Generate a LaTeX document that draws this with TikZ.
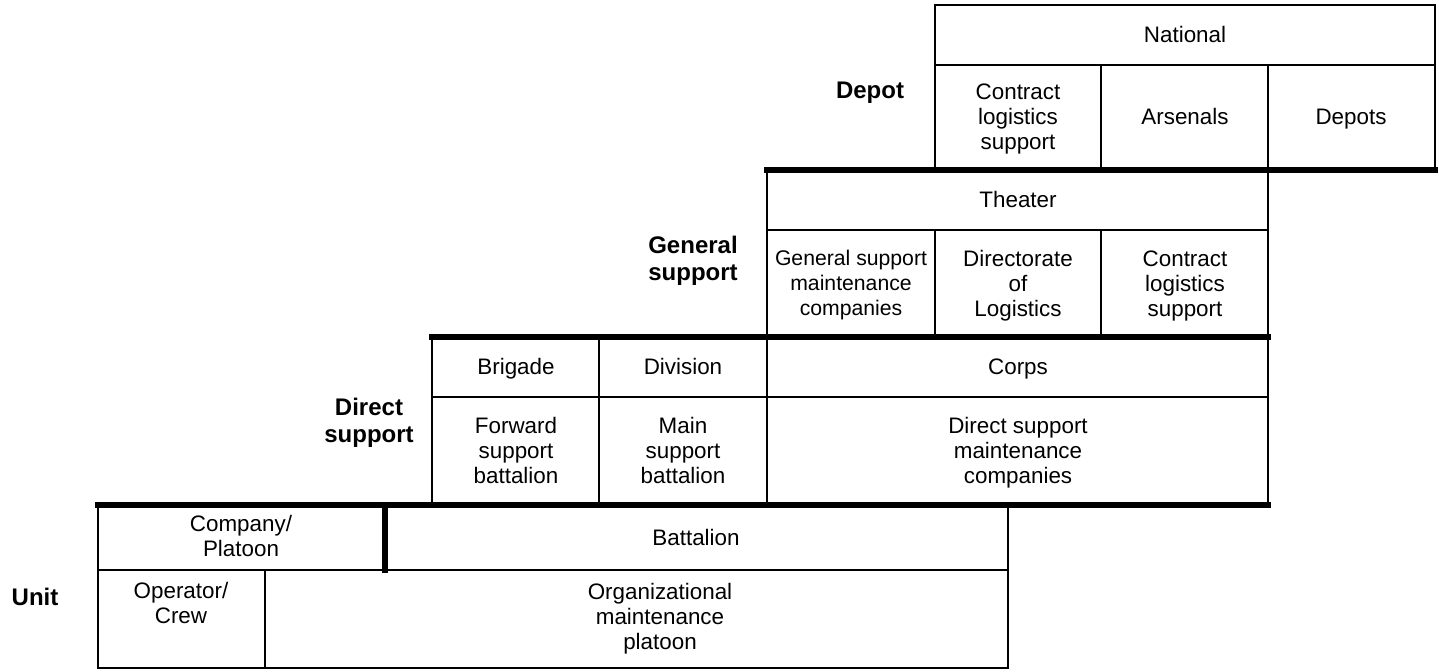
\documentclass[tikz,border=0pt]{standalone}
\usepackage{fontspec}
\setmainfont{Liberation Sans}
\begin{document}
\begin{tikzpicture}[x=0.5pt,y=-0.5pt,
    cell/.style={align=center, inner sep=0pt, font=\fontsize{11.2}{12.5}\selectfont,
        execute at begin node=\strut, execute at end node=\strut},
    tier/.style={align=center, inner sep=0pt, font=\fontsize{12}{13.5}\selectfont\bfseries},
    grid/.style={line width=1.4pt},
    edge/.style={line width=2.7pt, line cap=rect}]

    \useasboundingbox (0,0) rectangle (1439,672);

    % Depot level: national
    \draw[grid] (935,5) rectangle (1435,170);
    \draw[grid] (935,65) -- (1435,65);
    \draw[grid] (1101,65) -- (1101,170);
    \draw[grid] (1268,65) -- (1268,170);

    % General support level: theater
    \draw[grid] (767,170) rectangle (1268,337);
    \draw[grid] (767,230) -- (1268,230);
    \draw[grid] (935,230) -- (935,337);
    \draw[grid] (1101,230) -- (1101,337);

    % Direct support level: brigade, division, corps
    \draw[grid] (432,337) rectangle (1268,505);
    \draw[grid] (432,397) -- (1268,397);
    \draw[grid] (599,337) -- (599,505);
    \draw[grid] (767,337) -- (767,505);

    % Unit level: company and battalion
    \draw[grid] (98,505) rectangle (1008,668);
    \draw[grid] (98,570) -- (1008,570);
    \draw[grid] (265,570) -- (265,668);

    % Heavy steps between the levels
    \draw[edge] (767,170) -- (1435,170);
    \draw[edge] (432,337) -- (1268,337);
    \draw[edge] (98,505) -- (1268,505);
    \draw[edge] (385,505) -- (385,570);

    % Level names
    \node[tier] (depot) at (870,93) {Depot};
    \node[tier] (gensup) at (693,261) {General\\support};
    \node[tier] (dirsup) at (369,423) {Direct\\support};
    \node[tier] (unit) at (35,597) {Unit};

    % Depot cells
    \node[cell] (national) at (1185,38) {National};
    \node[cell] (contract1) at (1018,120) {Contract\\logistics\\support};
    \node[cell] (arsenals) at (1185,120) {Arsenals};
    \node[cell] (depots) at (1351,120) {Depots};

    % General support cells
    \node[cell] (theater) at (1018,203) {Theater};
    \node[cell, font=\fontsize{10.6}{12.5}\selectfont] (gsmaint) at (851,287) {General support\\maintenance\\companies};
    \node[cell] (dol) at (1018,287) {Directorate\\of\\Logistics};
    \node[cell] (contract2) at (1185,287) {Contract\\logistics\\support};

    % Direct support cells
    \node[cell] (brigade) at (516,370) {Brigade};
    \node[cell] (division) at (683,370) {Division};
    \node[cell] (corps) at (1018,370) {Corps};
    \node[cell] (fsb) at (516,454) {Forward\\support\\battalion};
    \node[cell] (msb) at (683,454) {Main\\support\\battalion};
    \node[cell] (dsmaint) at (1018,454) {Direct support\\maintenance\\companies};

    % Unit cells
    \node[cell] (company) at (241,540) {Company/\\Platoon};
    \node[cell] (battalion) at (696,541) {Battalion};
    \node[cell] (crew) at (181,607) {Operator/\\Crew};
    \node[cell] (orgmaint) at (660,620) {Organizational\\maintenance\\platoon};

\end{tikzpicture}
\end{document}
